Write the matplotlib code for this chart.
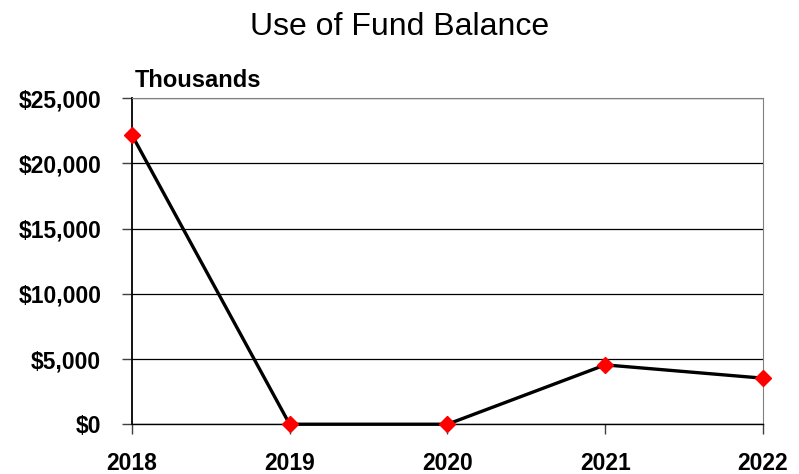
import matplotlib.pyplot as plt
from matplotlib.ticker import FuncFormatter

years = ["2018", "2019", "2020", "2021", "2022"]
fund_balance = [22190, 0, 0, 4550, 3530]   # thousands of dollars

plt.rcParams['font.family'] = ['Liberation Sans', 'DejaVu Sans']

fig = plt.figure(figsize=(7.99, 4.74), dpi=100)
ax = fig.add_axes([0.165, 0.105, 0.790, 0.688])

x = range(len(years))
ax.plot(x, fund_balance, color="black", lw=2.4, zorder=3, clip_on=False)
ax.plot(x, fund_balance, ls="none", marker="D", color="red", ms=8.5,
        zorder=4, clip_on=False)

ax.set_xlim(0, len(years) - 1)
ax.set_ylim(0, 25000)
ax.set_yticks(range(0, 25001, 5000))
ax.yaxis.set_major_formatter(FuncFormatter(lambda v, p: "${:,.0f}".format(v)))
ax.set_xticks(list(x))
ax.set_xticklabels(years)

ax.grid(axis="y", color="black", lw=0.9)
ax.set_axisbelow(True)
for s in ["top", "right"]:
    ax.spines[s].set_color("#808080")
ax.spines["left"].set_linewidth(1.3)
ax.spines["bottom"].set_linewidth(1.0)

ax.tick_params(axis="both", direction="out", length=7, width=1, color="#404040",
               labelsize=16.5)
ax.tick_params(axis="y", pad=15)
ax.tick_params(axis="x", pad=13)
for lab in ax.get_xticklabels() + ax.get_yticklabels():
    lab.set_fontweight("bold")

ax.text(0.005, 1.02, "Thousands", transform=ax.transAxes, fontsize=17,
        fontweight="bold", ha="left", va="bottom")
fig.suptitle("Use of Fund Balance", fontsize=23, y=0.975)

fig.savefig("out.png", dpi=100)
